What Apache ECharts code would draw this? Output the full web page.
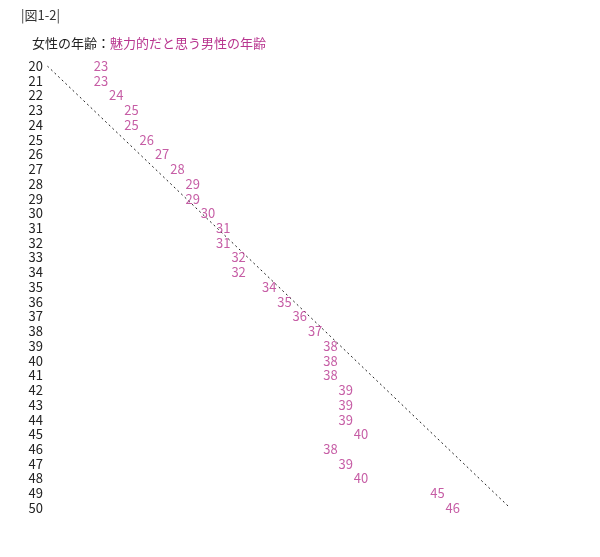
<!DOCTYPE html>
<html>
<head>
<meta charset="utf-8">
<script src="https://cdn.jsdelivr.net/npm/echarts@6/dist/echarts.min.js"></script>
<style>
html,body{margin:0;padding:0;background:#fff;}
#main{width:600px;height:557px;}
</style>
</head>
<body>
<div id="main"></div>
<script>
// 女性の年齢 (rows) and 魅力的だと思う男性の年齢 (values)
var womenAges = ['20','21','22','23','24','25','26','27','28','29','30','31','32','33','34','35',
                 '36','37','38','39','40','41','42','43','44','45','46','47','48','49','50'];
var menAges = [23,23,24,25,25,26,27,28,29,29,30,31,31,32,32,34,
               35,36,37,38,38,38,39,39,39,40,38,39,40,45,46];
// diagonal reference line (same age)
var diagFrom = [19.5, '20'];
var diagTo = [49.75, '50'];

var magenta = '#b8358f';
var font = '"Noto Sans CJK JP", "Noto Sans", sans-serif';

var myChart = echarts.init(document.getElementById('main'));

var points = [];
for (var i = 0; i < womenAges.length; i++) {
    points.push([menAges[i], womenAges[i]]);
}

var option = {
    backgroundColor: '#ffffff',
    textStyle: { fontFamily: font },
    animation: false,
    title: [{
        text: '|図1-2|',
        left: 16,
        top: 4,
        textStyle: { fontSize: 13, fontWeight: 'normal', color: '#333', fontFamily: font }
    }, {
        text: '{a|女性の年齢：}{b|魅力的だと思う男性の年齢}',
        left: 27,
        top: 32,
        textStyle: {
            fontWeight: 'normal',
            rich: {
                a: { fontSize: 13, fontWeight: 'normal', color: '#222', fontFamily: font },
                b: { fontSize: 13, fontWeight: 'normal', color: magenta, fontFamily: font }
            }
        }
    }],
    grid: { left: 55, right: 86, top: 66, bottom: 49 },
    xAxis: {
        type: 'value',
        min: 20,
        max: 50,
        show: false
    },
    yAxis: {
        type: 'category',
        data: womenAges,
        inverse: true,
        boundaryGap: false,
        axisLine: { show: false },
        axisTick: { show: false },
        splitLine: { show: false },
        axisLabel: { interval: 0, color: '#222', fontSize: 13, margin: 12, fontFamily: font }
    },
    series: [{
        type: 'line',
        data: [diagFrom, diagTo],
        symbol: 'none',
        clip: false,
        lineStyle: { color: '#222', width: 1, type: [2, 3] },
        z: 1
    }, {
        type: 'scatter',
        data: points,
        symbolSize: 1,
        clip: false,
        itemStyle: { color: 'rgba(0,0,0,0)' },
        label: {
            show: true,
            position: 'inside',
            formatter: function (p) { return p.value[0]; },
            color: magenta,
            fontSize: 13,
            fontFamily: font
        },
        z: 2
    }]
};

myChart.setOption(option);
</script>
</body>
</html>
